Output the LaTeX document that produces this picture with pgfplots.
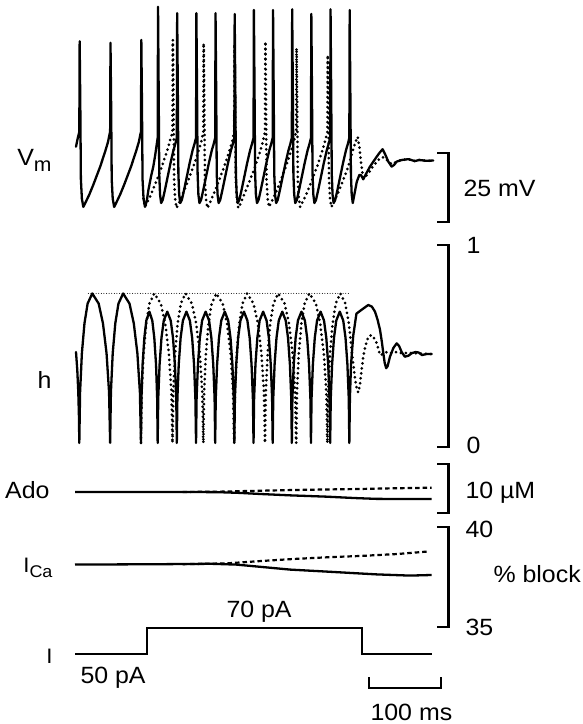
\documentclass[border=0pt]{standalone}
\usepackage{fontspec}
\setmainfont{Liberation Sans}[FakeStretch=1.06]
\usepackage{pgfplots}
\pgfplotsset{compat=1.18}

% all panels share one frame: 583 x 724 bp, time axis in ms
\pgfplotsset{
  panel/.style={width=583bp, height=724bp, scale only axis, at={(0,0)},
    anchor=south west, hide axis, clip=false, xmin=-104.6, xmax=708.5},
  trace/.style={black, line width=2.3bp, line join=round, line cap=round},
  dots/.style={black, line width=3bp, line cap=round, dash pattern=on 0bp off 5bp},
  dash/.style={black, line width=2.2bp, dash pattern=on 4.5bp off 3bp},
  bar/.style={black, line width=2.2bp, line join=miter},
}
\newcommand\lab{\fontsize{23.6}{28}\selectfont}
\newcommand\labs{\fontsize{21}{24}\selectfont}

\begin{document}
\begin{tikzpicture}

% ---- Vm (mV)
\begin{axis}[panel, ymin=-259.35, ymax=2.97]
\addplot[dots] coordinates {
 (95.6,-69) (97.6,-72) (100.5,-70.5) (106,-67.5) (111.5,-64) (121,-57.5) (128,-52) (132,-48.5) (135.5,-45.3)
 (136,-45) (136.5,-11.5) (137.4,-35) (138.2,-62) (139.6,-69) (141.6,-72.4) (144.5,-71) (150,-67.5) (155.5,-64) (165,-57.5) (172,-52) (176,-48.5) (178.5,-45.3)
 (179,-45) (179.5,-12.7) (180.4,-35) (181.2,-62) (182.6,-69) (184.6,-72.4) (187.5,-71) (193,-67.5) (198.5,-64) (208,-57.5) (215,-52) (219,-48.5) (221.5,-45.3)
 (222,-45) (222.5,-13) (223.4,-35) (224.2,-62) (225.6,-69) (227.6,-72.4) (230.5,-71) (236,-67.5) (241.5,-64) (251,-57.5) (258,-52) (262,-48.5) (264.5,-45.3)
 (265,-45) (265.5,-12.1) (266.4,-35) (267.2,-62) (268.6,-69) (270.6,-72) (273.5,-70.5) (279,-67.5) (284.5,-64) (294,-57.5) (301,-52) (305,-48.5) (308,-45.3)
 (308.5,-45) (309,-14.5) (309.9,-35) (310.7,-62) (312.1,-69) (314.1,-72) (317,-70.5) (322.5,-67.5) (328,-64) (337.5,-57.5) (344.5,-52) (348.5,-48.5) (351.5,-45.3)
 (352,-45) (352.5,-17) (353.4,-35) (354.2,-62) (355.6,-69) (357.6,-72) (360.5,-70.5) (366,-67.5) (371.5,-64) (381,-57.5) (387,-52) (391,-48.5) (394.3,-46.6)
 (396.5,-50) (399,-56) (402,-61.6) (405,-61) (410,-59.5) (415,-57.5) (420,-56) (425,-54.5) (430,-54) (435,-55) (441.6,-56.5) (448.6,-55.6) (455.6,-55) (465,-54.7) (474,-55.4) (480,-55) (490,-55.3) (499.7,-55.2)
};
\addplot[trace] coordinates {
 (1.4,-50.2) (3.5,-47.5) (5.5,-45.3)
 (6,-45) (6.5,-12) (7.4,-35) (8.2,-62) (9.6,-69) (11.6,-72) (14.5,-70.5) (20,-67.5) (25.5,-64) (35,-57.5) (42,-52) (46,-48.5) (48.5,-45.3)
 (49,-45) (49.5,-12.5) (50.4,-35) (51.2,-62) (52.6,-69) (54.6,-72) (57.5,-70.5) (63,-67.5) (68.5,-64) (78,-57.5) (85,-52) (89,-48.5) (91.5,-45.3)
 (92,-45) (92.5,-11.5) (93.4,-35) (94.2,-62) (95.6,-69) (97.6,-72) (100,-70) (102.3,-66) (106,-61) (109.2,-57.4) (112,-53) (114,-49.3)
 (115.3,-47) (115.8,0.5) (116.7,-30) (117.5,-60) (118.6,-67.5) (120.1,-70.6) (122.3,-69.5) (125.3,-66) (129.3,-61) (133.3,-56) (137.3,-51.5) (139.8,-49.3)
 (142,-47) (142.5,-1.8) (143.4,-30) (144.2,-60) (145.3,-67.5) (146.8,-70.6) (149,-69.5) (152,-66) (156,-61) (160,-56) (164,-51.5) (166.5,-49.3)
 (168.8,-47) (169.3,-1.8) (170.2,-30) (171,-60) (172.1,-67.5) (173.6,-70.6) (175.8,-69.5) (178.8,-66) (182.8,-61) (186.8,-56) (190.8,-51.5) (193.3,-49.3)
 (195.5,-47) (196,-1.8) (196.9,-30) (197.7,-60) (198.8,-67.5) (200.3,-70.6) (202.5,-69.5) (205.5,-66) (209.5,-61) (213.5,-56) (217.5,-51.5) (220,-49.3)
 (222.2,-47) (222.7,-2.1) (223.6,-30) (224.4,-60) (225.5,-67.5) (227,-70.6) (229.2,-69.5) (232.2,-66) (236.2,-61) (240.2,-56) (244.2,-51.5) (246.7,-49.3)
 (249,-47) (249.5,-0.65) (250.4,-30) (251.2,-60) (252.3,-67.5) (253.8,-70.6) (256,-69.5) (259,-66) (263,-61) (267,-56) (271,-51.5) (273.5,-49.3)
 (275.7,-47) (276.2,-0.65) (277.1,-30) (277.9,-60) (279,-67.5) (280.5,-70.6) (282.7,-69.5) (285.7,-66) (289.7,-61) (293.7,-56) (297.7,-51.5) (300.2,-49.3)
 (302.4,-47) (302.9,-0.4) (303.8,-30) (304.6,-60) (305.7,-67.5) (307.2,-70.6) (309.4,-69.5) (312.4,-66) (316.4,-61) (320.4,-56) (324.4,-51.5) (326.9,-49.3)
 (329.1,-47) (329.6,-2.1) (330.5,-30) (331.3,-60) (332.4,-67.5) (333.9,-70.6) (336.1,-69.5) (339.1,-66) (343.1,-61) (347.1,-56) (351.1,-51.5) (353.6,-49.3)
 (355.9,-47) (356.4,-0.4) (357.3,-30) (358.1,-60) (359.2,-67.5) (360.7,-70.6) (362.9,-69.5) (365.9,-66) (369.9,-61) (373.9,-56) (377.9,-51.5) (380.4,-49.3)
 (382.6,-47) (383.1,-0.65) (384,-30) (384.8,-60) (385.9,-67.5) (387.4,-70.6) (390,-67) (393,-62.9) (396.6,-60.4) (399,-60.5) (402,-62) (406,-60) (411.4,-57.4)
 (420.8,-53.8) (425,-52.3) (429,-51.1) (433,-53.2) (437,-55.6) (441.6,-57.4) (445,-56.8) (448.6,-55.6) (455.6,-55) (465,-54.7) (474,-55.4) (480,-55) (490,-55.3) (499.7,-55.2)
};
\addplot[bar] coordinates {(505,-52.5) (521,-52.5) (521,-77.5) (505,-77.5)};
\end{axis}

% ---- h (inactivation, 0..1)
\begin{axis}[panel, ymin=-1.3713, ymax=2.2129]
\addplot[black, line width=1bp, line cap=round, dash pattern=on 0bp off 2.6bp] coordinates {(18.6,0.76) (383.5,0.76)};
\addplot[dots] coordinates {
 (92,0.02) (93.1,0.272) (95.7,0.464) (99.4,0.612) (103.8,0.71) (110.5,0.76) (119.7,0.71) (125.8,0.612) (130.9,0.464) (134.5,0.272)
 (136,0.02) (137.1,0.272) (139.6,0.464) (143.2,0.612) (147.6,0.71) (154.1,0.76) (163,0.71) (169,0.612) (174,0.464) (177.5,0.272)
 (179,0.02) (180.1,0.272) (182.6,0.464) (186.2,0.612) (190.6,0.71) (197.1,0.76) (206,0.71) (212,0.612) (217,0.464) (220.5,0.272)
 (222,0.02) (223.1,0.272) (225.6,0.464) (229.2,0.612) (233.6,0.71) (240.1,0.76) (249,0.71) (255,0.612) (260,0.464) (263.5,0.272)
 (265,0.02) (266.1,0.272) (268.7,0.464) (272.3,0.612) (276.7,0.71) (283.3,0.76) (292.4,0.71) (298.4,0.612) (303.5,0.464) (307,0.272)
 (308.5,0.02) (309.6,0.272) (312.2,0.464) (315.8,0.612) (320.2,0.71) (326.8,0.76) (335.9,0.71) (341.9,0.612) (347,0.464) (350.5,0.272)
 (352,0.02) (353.1,0.272) (355.7,0.464) (359.3,0.612) (363.7,0.71) (370,0.76) (377,0.71) (382,0.61) (386.5,0.46) (390,0.35) (393,0.29) (395,0.27)
 (397.5,0.31) (400,0.39) (402,0.447) (405,0.50) (409,0.546) (413.8,0.554) (417,0.54) (420.8,0.513) (425.4,0.455) (430,0.46) (434.7,0.47) (440,0.465)
 (448,0.47) (455,0.465) (470,0.465) (497.5,0.46)
};
\addplot[trace] coordinates {
 (1.4,0.47) (3.2,0.38) (4.6,0.27) (5.5,0.15)
 (6,0.02) (7.1,0.272) (9.6,0.464) (13.2,0.612) (17.6,0.71) (24.1,0.76) (33,0.71) (39,0.612) (44,0.464) (47.5,0.272)
 (49,0.02) (50.1,0.272) (52.6,0.464) (56.2,0.612) (60.6,0.71) (67.1,0.76) (76,0.71) (82,0.612) (87,0.464) (90.5,0.272)
 (92,0.02) (92.7,0.241) (94.3,0.41) (96.7,0.54) (99.5,0.626) (103.7,0.67) (107.8,0.626) (110.6,0.54) (113,0.41) (114.6,0.241)
 (115.3,0.02) (116.1,0.241) (118,0.41) (120.6,0.54) (123.8,0.626) (128.7,0.67) (133.5,0.626) (136.7,0.54) (139.3,0.41) (141.2,0.241)
 (142,0.02) (142.8,0.241) (144.7,0.41) (147.3,0.54) (150.5,0.626) (155.4,0.67) (160.2,0.626) (163.4,0.54) (166,0.41) (167.9,0.241)
 (168.8,0.02) (169.6,0.241) (171.5,0.41) (174.1,0.54) (177.3,0.626) (182.2,0.67) (187,0.626) (190.2,0.54) (192.8,0.41) (194.7,0.241)
 (195.5,0.02) (196.3,0.241) (198.2,0.41) (200.8,0.54) (204,0.626) (208.9,0.67) (213.7,0.626) (216.9,0.54) (219.5,0.41) (221.4,0.241)
 (222.2,0.02) (223,0.241) (224.9,0.41) (227.5,0.54) (230.7,0.626) (235.6,0.67) (240.4,0.626) (243.6,0.54) (246.2,0.41) (248.1,0.241)
 (249,0.02) (249.8,0.241) (251.7,0.41) (254.3,0.54) (257.5,0.626) (262.4,0.67) (267.2,0.626) (270.4,0.54) (273,0.41) (274.9,0.241)
 (275.7,0.02) (276.5,0.241) (278.4,0.41) (281,0.54) (284.2,0.626) (289.1,0.67) (293.9,0.626) (297.1,0.54) (299.7,0.41) (301.6,0.241)
 (302.4,0.02) (303.2,0.241) (305.1,0.41) (307.7,0.54) (310.9,0.626) (315.8,0.67) (320.6,0.626) (323.8,0.54) (326.4,0.41) (328.3,0.241)
 (329.1,0.02) (329.9,0.241) (331.8,0.41) (334.4,0.54) (337.6,0.626) (342.5,0.67) (347.3,0.626) (350.5,0.54) (353.1,0.41) (355,0.241)
 (355.9,0.02) (356.7,0.241) (358.6,0.41) (361.2,0.54) (364.4,0.626) (369.3,0.67) (374.1,0.626) (377.3,0.54) (379.9,0.41) (381.8,0.241)
 (382.6,0.02) (383.4,0.24) (385,0.41) (388,0.55) (392.5,0.66) (400,0.68) (409,0.703) (414,0.695) (418.4,0.67) (422,0.63) (425.4,0.58) (428,0.52)
 (430,0.464) (432,0.415) (434,0.39) (436,0.40) (439.3,0.447) (444,0.49) (448.6,0.513) (452,0.50) (455.6,0.47) (460,0.447) (465,0.452)
 (470,0.465) (475,0.47) (479,0.468) (484,0.455) (490,0.46) (497.5,0.46)
};
\addplot[bar] coordinates {(505,1) (521,1) (521,0) (505,0)};
\end{axis}

% ---- Ado (uM)
\begin{axis}[panel, ymin=-43.06, ymax=104.69]
\addplot[dash] coordinates {(150,4.29) (200,4.35) (260,4.55) (304,4.69) (350,4.8) (397.5,4.9) (440,5.03) (497.5,5.16)};
\addplot[black, line width=2.3bp] coordinates {(0,4.29) (150,4.29) (200,4.25) (230,4.1) (258,3.88) (300,3.6) (351,3.33) (390,3.05) (420.7,2.88) (460,2.86) (497.5,2.86)};
\addplot[bar] coordinates {(505,10) (521,10) (521,0) (505,0)};
\end{axis}

% ---- I_Ca (% block)
\begin{axis}[panel, ymin=30.15, ymax=66.35]
\addplot[dash] coordinates {(150,38.14) (211.5,38.18) (260,38.3) (304.5,38.4) (360,38.5) (397.5,38.55) (450,38.65) (490.5,38.77)};
\addplot[black, line width=2.3bp] coordinates {(0,38.12) (120,38.14) (190,38.16) (225,38.12) (258,38.01) (300,37.87) (351,37.77) (420.7,37.63) (467,37.57) (497.5,37.6)};
\addplot[bar] coordinates {(505,40) (521,40) (521,35) (505,35)};
\end{axis}

% ---- I (pA) and time bar
\begin{axis}[panel, ymin=-2.4, ymax=541.95]
\addplot[trace, line cap=butt, line join=miter] coordinates {(0,50) (100,50) (100,70) (400,70) (400,50) (497.5,50)};
\addplot[bar] coordinates {(410.5,32.9) (410.5,24.66) (510.5,24.66) (510.5,32.9)};
\end{axis}

% ---- labels, placed in picture pixels (y downwards)
\begin{axis}[width=583bp, height=724bp, scale only axis, at={(0,0)}, anchor=south west,
  hide axis, clip=false, xmin=0, xmax=583, ymin=0, ymax=724, y dir=reverse]
\node[anchor=base east] at (axis cs:55,165) {\lab V\raisebox{-6bp}{\fontsize{20}{20}\selectfont m}};
\node[anchor=base east] at (axis cs:55,388) {\lab h};
\node[anchor=base east] at (axis cs:53,498) {\lab Ado};
\node[anchor=base east] at (axis cs:56,572) {\labs I\raisebox{-5bp}{\fontsize{17}{18}\selectfont Ca}};
\node[anchor=base east] at (axis cs:56,663) {\labs I};
\node[anchor=base west] at (axis cs:460,196.7) {\lab 25 mV};
\node[anchor=base west] at (axis cs:463,253) {\lab 1};
\node[anchor=base west] at (axis cs:463,453) {\lab 0};
\node[anchor=base west] at (axis cs:462,498) {\lab 10 µM};
\node[anchor=base west] at (axis cs:462,537) {\lab 40};
\node[anchor=base west] at (axis cs:490,582) {\lab \% block};
\node[anchor=base west] at (axis cs:462,635) {\lab 35};
\node[anchor=base west] at (axis cs:223,617) {\lab 70 pA};
\node[anchor=base west] at (axis cs:77,683) {\lab 50 pA};
\node[anchor=base west] at (axis cs:367,720) {\lab 100 ms};
\end{axis}

\pgfresetboundingbox
\useasboundingbox (0,0) rectangle (583bp,724bp);
\end{tikzpicture}
\end{document}
